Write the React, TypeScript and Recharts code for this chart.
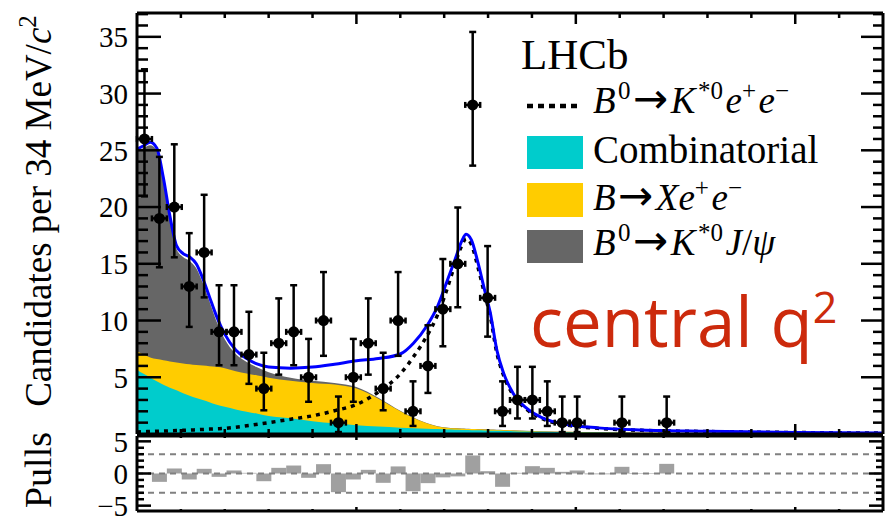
import React from 'react';
import {
  ComposedChart,
  Area,
  Line,
  Scatter,
  ErrorBar,
  XAxis,
  YAxis,
  Bar,
  ReferenceLine,
} from 'recharts';

// ---------- fitted curves, mass in MeV/c^2 ----------
const CURVE_MASS = [
  4500, 4515, 4530, 4545, 4560, 4575, 4590, 4605, 4620, 4635, 4650, 4665, 4680, 4700, 4725, 4750,
  4775, 4800, 4850, 4900, 4950, 5000, 5050, 5100, 5130, 5160, 5185, 5205, 5225, 5240, 5250, 5262,
  5277, 5292, 5305, 5320, 5335, 5357, 5387, 5425, 5480, 5550, 5650, 5800, 6000, 6200,
];
// top of the B0->K*0 J/psi component (stacked on everything below)
const CURVE_JPSI_TOP = [
  24.9, 25.2, 25.45, 25.0, 22.35, 18.9, 16.3, 15.6, 15.25, 14.6, 13.3, 11.7, 10.05, 8.35, 7.05, 6.35,
  5.85, 5.45, 4.95, 4.7, 4.5, 4.15, 3.2, 2.05, 1.45, 0.97, 0.69, 0.58, 0.52, 0.49, 0.47, 0.45,
  0.43, 0.41, 0.39, 0.37, 0.355, 0.325, 0.285, 0.24, 0.2, 0.16, 0.11, 0.075, 0.045, 0.025,
];
// top of the B->Xee component (stacked on combinatorial)
const CURVE_XEE_TOP = [
  7.29, 7.0, 6.75, 6.6, 6.5, 6.4, 6.3, 6.22, 6.15, 6.08, 6.03, 5.98, 5.92, 5.8, 5.53, 5.33,
  5.15, 4.96, 4.69, 4.5, 4.36, 4.0, 3.1, 2.0, 1.42, 0.95, 0.67, 0.56, 0.5, 0.47, 0.45, 0.43,
  0.41, 0.39, 0.37, 0.35, 0.34, 0.31, 0.27, 0.23, 0.19, 0.15, 0.1, 0.07, 0.04, 0.02,
];
// combinatorial component
const CURVE_COMB = [
  5.67, 5.3, 4.98, 4.65, 4.35, 4.08, 3.85, 3.6, 3.38, 3.18, 2.99, 2.8, 2.6, 2.4, 2.17, 1.97,
  1.78, 1.58, 1.38, 1.13, 0.94, 0.78, 0.65, 0.55, 0.5, 0.46, 0.43, 0.4, 0.38, 0.36, 0.35, 0.34,
  0.32, 0.3, 0.29, 0.28, 0.27, 0.25, 0.22, 0.19, 0.16, 0.13, 0.09, 0.06, 0.03, 0.02,
];
// total fit (blue)
const CURVE_TOTAL = [
  25.1, 25.4, 25.7, 25.2, 22.6, 19.2, 16.6, 15.9, 15.6, 15.0, 13.7, 12.1, 10.5, 8.8, 7.4, 6.65,
  6.15, 5.9, 5.8, 5.9, 6.15, 6.45, 6.65, 7.05, 8.0, 9.5, 11.25, 13.3, 15.4, 17.0, 17.6, 17.1,
  15.1, 12.7, 10.7, 7.4, 5.4, 3.6, 2.3, 1.4, 0.83, 0.54, 0.35, 0.24, 0.14, 0.09,
];
// signal B0->K*0 e+ e- (dotted)
const CURVE_SIGNAL = [
  0.18, 0.2, 0.22, 0.24, 0.26, 0.28, 0.3, 0.32, 0.34, 0.37, 0.4, 0.43, 0.46, 0.5, 0.6, 0.72,
  0.86, 1.0, 1.3, 1.6, 2.05, 2.6, 3.7, 5.3, 6.8, 8.6, 10.5, 12.6, 15.0, 16.6, 17.2, 16.7,
  14.7, 12.35, 10.4, 7.15, 5.2, 3.45, 2.2, 1.33, 0.78, 0.5, 0.32, 0.22, 0.13, 0.08,
];

// ---------- data histogram (34 MeV bins) ----------
const BIN_CENTERS = [
  4517, 4551, 4585, 4619, 4653, 4687, 4721, 4755, 4789, 4823, 4857, 4891, 4925, 4959, 4993, 5027,
  5061, 5095, 5129, 5163, 5197, 5231, 5265, 5299, 5333, 5367, 5401, 5435, 5469, 5503, 5537, 5571,
  5605, 5639, 5673, 5707, 5741, 5775, 5809, 5843, 5877, 5911, 5945, 5979, 6013, 6047, 6081, 6115,
  6149, 6183,
];
const COUNTS = [
  26, 19, 20, 13, 16, 9, 9, 7, 4, 8, 9, 5, 10, 1, 5, 8, 4, 10, 2, 6, 11, 15, 29, 12, 2, 3, 3, 2, 1,
  1, 0, 0, 1, 0, 0, 1, 0, 0, 0, 0, 0, 0, 0, 0, 0, 0, 0, 0, 0, 0,
];
const ERR_LOW = [
  5.06, 4.31, 4.43, 3.56, 3.96, 2.94, 2.94, 2.58, 1.91, 2.77, 2.94, 2.16, 3.11, 0.83, 2.16, 2.77,
  1.91, 3.11, 1.29, 2.38, 3.27, 3.83, 5.35, 3.42, 1.29, 1.63, 1.63, 1.29, 0.83, 0.83, 0, 0, 0.83,
  0, 0, 0.83, 0, 0, 0, 0, 0, 0, 0, 0, 0, 0, 0, 0, 0, 0,
];
const ERR_HIGH = [
  6.14, 5.42, 5.53, 4.7, 5.08, 4.11, 4.11, 3.77, 3.16, 3.95, 4.11, 3.38, 4.27, 2.3, 3.38, 3.95,
  3.16, 4.27, 2.64, 3.58, 4.42, 4.96, 6.43, 4.56, 2.64, 2.92, 2.92, 2.64, 2.3, 2.3, 0, 0, 2.3,
  0, 0, 2.3, 0, 0, 0, 0, 0, 0, 0, 0, 0, 0, 0, 0, 0, 0,
];
const HALF_BIN = 17;
const PULLS = [
  0.1, -1.3, 0.78, -0.93, 0.73, -0.52, 0.47, 0.1, -1.2, 0.88, 1.24, -0.67, 1.45, -2.9, -0.93, 0.57,
  -1.45, 1.1, -2.75, -1.5, -0.6, -0.45, 2.8, 0.36, -2.07, 0.1, 1.14, 0.88, 0.26, 0.47, -0.12, -0.12,
  1.04, -0.08, -0.08, 1.5, 0, 0, 0, 0, 0, 0, 0, 0, 0, 0, 0, 0, 0, 0,
];

// ---------- axes ----------
const X_DOMAIN = [4500, 6200];
const X_TICKS = [
  4600, 4700, 4800, 4900, 5000, 5100, 5200, 5300, 5400, 5500, 5600, 5700, 5800, 5900, 6000, 6100,
];
const X_MAJOR = [5000, 5500, 6000];
const Y_DOMAIN = [0, 37.1];
const Y_TICKS = [
  1, 2, 3, 4, 5, 6, 7, 8, 9, 10, 11, 12, 13, 14, 15, 16, 17, 18, 19, 20, 21, 22, 23, 24, 25, 26,
  27, 28, 29, 30, 31, 32, 33, 34, 35, 36, 37,
];
const Y_MAJOR = [5, 10, 15, 20, 25, 30, 35];
const Y_LABELS = [5, 10, 15, 20, 25, 30, 35];
const PULL_DOMAIN = [-5.83, 5.83];
const PULL_TICKS = [-5, -4, -3, -2, -1, 0, 1, 2, 3, 4, 5];
const PULL_MAJOR = [-5, 0, 5];
const PULL_LABELS = [-5, 0, 5];
const PULL_LINES = [-3, 0, 3];

// ---------- layout / style ----------
const W = 889;
const H = 517;
const MAIN_H = 435;
const MAIN_TOP_AX = 13;
const MAIN_BOT_AX = 1;
const PULL_TOP = 420;
const PULL_H = 97;
const PULL_TOP_AX = 16;
const PULL_BOT_AX = 6;
const LEFT_W = 137;
const RIGHT_W = 6;
const PLOT_L = LEFT_W;
const PLOT_R = W - RIGHT_W;
const PX_PER_MEV = (PLOT_R - PLOT_L) / (X_DOMAIN[1] - X_DOMAIN[0]);
const MAIN_T = MAIN_TOP_AX;
const MAIN_B = MAIN_H - MAIN_BOT_AX;
const PULL_T = PULL_TOP + PULL_TOP_AX;
const PULL_B = PULL_TOP + PULL_H - PULL_BOT_AX;

const SERIF = '"Liberation Serif", "DejaVu Serif", serif';
const FRAME = { stroke: '#000', strokeWidth: 3 };
const TICK_T = 2.5;
const TICK_TEXT = { fontSize: 29, fontFamily: SERIF, fill: '#000' };
const COL_CYAN = '#00cccc';
const COL_YELLOW = '#ffcc00';
const COL_GRAY = '#666666';
const COL_BLUE = '#0000ff';
const COL_PULL = '#a0a0a0';
const COL_RED = '#cc2a0c';

const curveData = CURVE_MASS.map((m, i) => ({
  m,
  jpsi: CURVE_JPSI_TOP[i],
  xee: CURVE_XEE_TOP[i],
  comb: CURVE_COMB[i],
  total: CURVE_TOTAL[i],
  signal: CURVE_SIGNAL[i],
}));

const pointData = BIN_CENTERS.map((m, i) => ({
  m,
  n: COUNTS[i],
  ey: [ERR_LOW[i], ERR_HIGH[i]],
  ex: HALF_BIN,
})).filter((d) => d.n > 0);

const pullData = BIN_CENTERS.map((m, i) => ({ bin: String(m), m, p: PULLS[i] }));

const fmt = (v: number) => (v < 0 ? `\u2212${-v}` : String(v));

const Dot = (p: any) => <circle cx={p.cx} cy={p.cy} r={5.5} fill="#000" />;

// ROOT-style inward tick marks on all four sides of a frame (axis decoration), drawn as thin bars
type Frame = {
  top: number;
  bottom: number;
  yDomain: number[];
  yTicks: number[];
  yMajor: number[];
  left: [number, number];
  right: [number, number];
  topLen: [number, number];
  bottomLen: [number, number];
  id: string;
};
const frameTicks = (f: Frame) => {
  const out: React.ReactNode[] = [];
  const yPx = (v: number) =>
    f.top + ((f.yDomain[1] - v) / (f.yDomain[1] - f.yDomain[0])) * (f.bottom - f.top);
  const xPx = (m: number) => PLOT_L + (m - X_DOMAIN[0]) * PX_PER_MEV;
  const h = TICK_T / 2;
  f.yTicks.forEach((v) => {
    const k = f.yMajor.includes(v) ? 0 : 1;
    const y = yPx(v);
    out.push(
      <rect key={`${f.id}l${v}`} x={PLOT_L} y={y - h} width={f.left[k]} height={TICK_T} fill="#000" />
    );
    out.push(
      <rect
        key={`${f.id}r${v}`}
        x={PLOT_R - f.right[k]}
        y={y - h}
        width={f.right[k]}
        height={TICK_T}
        fill="#000"
      />
    );
  });
  X_TICKS.forEach((m) => {
    const k = X_MAJOR.includes(m) ? 0 : 1;
    const x = xPx(m);
    out.push(
      <rect key={`${f.id}t${m}`} x={x - h} y={f.top} width={TICK_T} height={f.topLen[k]} fill="#000" />
    );
    out.push(
      <rect
        key={`${f.id}b${m}`}
        x={x - h}
        y={f.bottom - f.bottomLen[k]}
        width={TICK_T}
        height={f.bottomLen[k]}
        fill="#000"
      />
    );
  });
  return out;
};

const SUP = 25;
const LEG = 37;
const ARROW = { fontFamily: '"DejaVu Sans", sans-serif', fontSize: 42 };
const GAP = 2.5;

export default function App() {
  return (
    <div
      style={{
        position: 'absolute',
        left: 0,
        top: 0,
        width: W,
        height: H,
        background: '#fff',
        overflow: 'hidden',
        fontFamily: SERIF,
      }}
    >
      <div style={{ position: 'absolute', left: 0, top: 0 }}>
        <ComposedChart
          width={W}
          height={MAIN_H}
          data={curveData}
          margin={{ top: 0, right: 0, bottom: 0, left: 0 }}
        >
          <XAxis
            dataKey="m"
            type="number"
            domain={X_DOMAIN}
            allowDataOverflow
            height={MAIN_BOT_AX}
            tick={false}
            tickLine={false}
            axisLine={FRAME}
          />
          <XAxis
            xAxisId="t"
            orientation="top"
            type="number"
            domain={X_DOMAIN}
            allowDataOverflow
            height={MAIN_TOP_AX}
            tick={false}
            tickLine={false}
            axisLine={FRAME}
          />
          <YAxis
            type="number"
            domain={Y_DOMAIN}
            allowDataOverflow
            ticks={Y_LABELS}
            interval={0}
            width={LEFT_W}
            tickSize={0}
            tickMargin={9}
            tickLine={false}
            axisLine={FRAME}
            tick={TICK_TEXT}
            tickFormatter={fmt}
          />
          <YAxis
            yAxisId="r"
            orientation="right"
            type="number"
            domain={Y_DOMAIN}
            allowDataOverflow
            width={RIGHT_W}
            tick={false}
            tickLine={false}
            axisLine={FRAME}
          />

          <Area
            dataKey="jpsi"
            type="monotone"
            fill={COL_GRAY}
            fillOpacity={1}
            stroke="none"
            isAnimationActive={false}
          />
          <Area
            dataKey="xee"
            type="monotone"
            fill={COL_YELLOW}
            fillOpacity={1}
            stroke="none"
            isAnimationActive={false}
          />
          <Area
            dataKey="comb"
            type="monotone"
            fill={COL_CYAN}
            fillOpacity={1}
            stroke="none"
            isAnimationActive={false}
          />
          <Line
            dataKey="signal"
            type="monotone"
            stroke="#000"
            strokeWidth={3.5}
            strokeDasharray="4 5"
            dot={false}
            isAnimationActive={false}
          />
          <Line
            dataKey="total"
            type="monotone"
            stroke={COL_BLUE}
            strokeWidth={3}
            dot={false}
            isAnimationActive={false}
          />
          <Scatter data={pointData} dataKey="n" fill="#000" shape={Dot} isAnimationActive={false}>
            <ErrorBar dataKey="ey" direction="y" width={3.5} stroke="#000" strokeWidth={2.5} />
            <ErrorBar dataKey="ex" direction="x" width={3} stroke="#000" strokeWidth={2.5} />
          </Scatter>
        </ComposedChart>
      </div>

      <div style={{ position: 'absolute', left: 0, top: PULL_TOP }}>
        <ComposedChart
          width={W}
          height={PULL_H}
          data={pullData}
          margin={{ top: 0, right: 0, bottom: 0, left: 0 }}
          barCategoryGap={0}
          barGap={0}
        >
          <XAxis xAxisId="cat" dataKey="bin" type="category" hide />
          <XAxis
            xAxisId="b"
            dataKey="m"
            type="number"
            domain={X_DOMAIN}
            allowDataOverflow
            height={PULL_BOT_AX}
            tick={false}
            tickLine={false}
            axisLine={FRAME}
          />
          <XAxis
            xAxisId="t"
            orientation="top"
            type="number"
            domain={X_DOMAIN}
            allowDataOverflow
            height={PULL_TOP_AX}
            tick={false}
            tickLine={false}
            axisLine={FRAME}
          />
          <YAxis
            yAxisId="l"
            type="number"
            domain={PULL_DOMAIN}
            allowDataOverflow
            ticks={PULL_LABELS}
            interval={0}
            width={LEFT_W}
            tickSize={0}
            tickMargin={9}
            tickLine={false}
            axisLine={FRAME}
            tick={TICK_TEXT}
            tickFormatter={fmt}
          />
          <YAxis
            yAxisId="r"
            orientation="right"
            type="number"
            domain={PULL_DOMAIN}
            allowDataOverflow
            width={RIGHT_W}
            tick={false}
            tickLine={false}
            axisLine={FRAME}
          />
          {PULL_LINES.map((v) => (
            <ReferenceLine
              key={v}
              xAxisId="b"
              yAxisId="l"
              y={v}
              stroke="#808080"
              strokeWidth={2}
              strokeDasharray="6 5"
            />
          ))}
          <Bar
            xAxisId="cat"
            yAxisId="l"
            dataKey="p"
            fill={COL_PULL}
            isAnimationActive={false}
          />
        </ComposedChart>
      </div>

      <svg
        width={W}
        height={H}
        style={{ position: 'absolute', left: 0, top: 0, pointerEvents: 'none' }}
      >
        {frameTicks({
          top: MAIN_T,
          bottom: MAIN_B,
          yDomain: Y_DOMAIN,
          yTicks: Y_TICKS,
          yMajor: Y_MAJOR,
          left: [24, 11],
          right: [22, 10],
          topLen: [11, 5],
          bottomLen: [10, 5],
          id: 'm',
        })}
        {frameTicks({
          top: PULL_T,
          bottom: PULL_B,
          yDomain: PULL_DOMAIN,
          yTicks: PULL_TICKS,
          yMajor: PULL_MAJOR,
          left: [14, 7],
          right: [14, 7],
          topLen: [4, 2],
          bottomLen: [4, 2],
          id: 'p',
        })}

        <text
          transform="translate(51,211) rotate(-90)"
          textAnchor="middle"
          fontFamily={SERIF}
          fontSize={37}
          fill="#000"
        >
          Candidates per 34 MeV/<tspan fontStyle="italic">c</tspan>
          <tspan dy={-15} fontSize={25}>
            2
          </tspan>
        </text>
        <text
          transform="translate(51,470) rotate(-90)"
          textAnchor="middle"
          fontFamily={SERIF}
          fontSize={38}
          fill="#000"
        >
          Pulls
        </text>

        <text x={521} y={69} fontFamily={SERIF} fontSize={43} fill="#000">
          LHCb
        </text>

        <line
          x1={527}
          y1={106}
          x2={581}
          y2={106}
          stroke="#000"
          strokeWidth={4.5}
          strokeDasharray="6 5"
        />
        <text x={593} y={113} fontFamily={SERIF} fontSize={LEG} fill="#000">
          <tspan fontStyle="italic">B</tspan>
          <tspan dx={GAP} dy={-14} fontSize={SUP}>0</tspan>
          <tspan dx={GAP} dy={14} {...ARROW}>→</tspan>
          <tspan dx={GAP} fontStyle="italic">K</tspan>
          <tspan dx={GAP} dy={-14} fontSize={SUP}>*0</tspan>
          <tspan dx={GAP} dy={14} fontStyle="italic">e</tspan>
          <tspan dy={-14} fontSize={SUP}>+</tspan>
          <tspan dx={GAP} dy={14} fontStyle="italic">e</tspan>
          <tspan dy={-14} fontSize={SUP}>−</tspan>
        </text>

        <rect x={527} y={136} width={56} height={33} fill={COL_CYAN} />
        <text x={593} y={163} fontFamily={SERIF} fontSize={39} fill="#000">
          Combinatorial
        </text>

        <rect x={527} y={183} width={56} height={34} fill={COL_YELLOW} />
        <text x={593} y={210} fontFamily={SERIF} fontSize={LEG} fill="#000">
          <tspan fontStyle="italic">B</tspan>
          <tspan dx={GAP} {...ARROW}>→</tspan>
          <tspan dx={GAP} fontStyle="italic">Xe</tspan>
          <tspan dy={-14} fontSize={SUP}>+</tspan>
          <tspan dx={GAP} dy={14} fontStyle="italic">e</tspan>
          <tspan dy={-14} fontSize={SUP}>−</tspan>
        </text>

        <rect x={527} y={230} width={56} height={33} fill={COL_GRAY} />
        <text x={593} y={255} fontFamily={SERIF} fontSize={LEG} fill="#000">
          <tspan fontStyle="italic">B</tspan>
          <tspan dx={GAP} dy={-14} fontSize={SUP}>0</tspan>
          <tspan dx={GAP} dy={14} {...ARROW}>→</tspan>
          <tspan dx={GAP} fontStyle="italic">K</tspan>
          <tspan dx={GAP} dy={-14} fontSize={SUP}>*0</tspan>
          <tspan dx={GAP} dy={14} fontStyle="italic">J</tspan>
          <tspan>/</tspan>
          <tspan fontStyle="italic">ψ</tspan>
        </text>

        <text x={530} y={347} fontFamily='"Open Sans", sans-serif' fontSize={69} fill={COL_RED}>
          central q
          <tspan dy={-24} fontSize={43}>
            2
          </tspan>
        </text>
      </svg>
    </div>
  );
}
